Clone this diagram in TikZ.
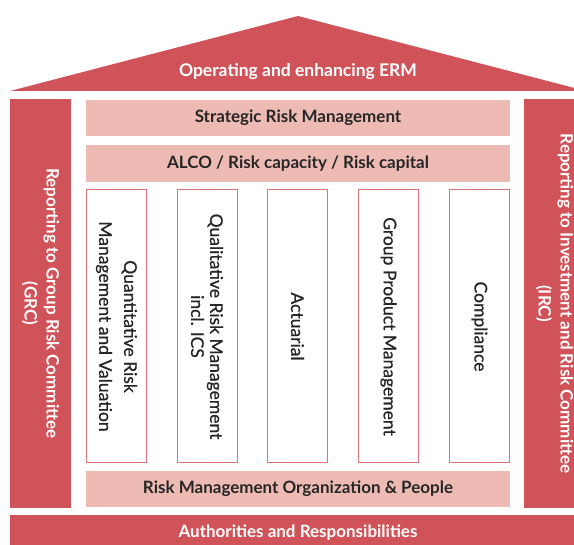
\documentclass[tikz,border=0pt]{standalone}
\usepackage{fontspec}
\setmainfont{Lato}
\newfontfamily\colfont[FakeBold=0.8]{Lato}
\definecolor{ermred}{HTML}{D05359}
\definecolor{ermpink}{HTML}{EDBBB4}
\definecolor{ermline}{HTML}{DE7379}
\definecolor{ermtext}{HTML}{262626}
\begin{document}
\begin{tikzpicture}[x=1pt,y=-1pt,
    bar/.style={fill=ermpink,text=ermtext,inner sep=0pt,minimum width=424pt,
      font=\bfseries\fontsize{17}{20}\selectfont},
    redbar/.style={fill=ermred,text=white,inner sep=0pt,
      font=\bfseries\fontsize{17}{20}\selectfont},
    column/.style={draw=ermline,line width=1pt,rotate=-90,inner sep=0pt,
      minimum width=273pt,minimum height=60pt,align=center,text=ermtext,
      font=\colfont\fontsize{17.5}{19}\selectfont},
    pillar/.style={fill=ermred,text=white,rotate=-90,inner sep=0pt,
      minimum width=409pt,minimum height=61pt,align=center,
      font=\bfseries\fontsize{17}{22}\selectfont}]
    \useasboundingbox (0,0) rectangle (574,545);
    \begin{scope}
        \clip (0,0) rectangle (574,545);
        % roof
        \fill[ermred] (10,91) -- (298,16) -- (586,91) -- cycle;
        \node[text=white,font=\bfseries\fontsize{17.5}{20}\selectfont] (roof) at (298,72) {Operating and enhancing ERM};

        % pillars at the sides
        \node[pillar] (PL) at (40.5,303.5) {Reporting to Group Risk Committee\\(GRC)};
        \node[pillar] (PR) at (554.5,303.5) {Reporting to Investment and Risk Committee\\(IRC)};

        % bars
        \node[bar,minimum height=36pt] (SR) at (298,118) {Strategic Risk Management};
        \node[bar,minimum height=37pt] (AL) at (298,163.5) {ALCO / Risk capacity / Risk capital};
        \node[bar,minimum height=36pt] (RO) at (298,489) {Risk Management Organization \& People};

        % columns
        \node[column] (CA) at (116.5,326.5) {Quantitative Risk\\[6pt]Management and Valuation};
        \node[column] (CB) at (207,326.5) {Qualitative Risk Management\\incl. ICS};
        \node[column] (CC) at (297.5,326.5) {Actuarial};
        \node[column] (CD) at (388.5,326.5) {Group Product Management};
        \node[column] (CE) at (479.5,326.5) {Compliance};

        % base
        \node[redbar,minimum width=575pt,minimum height=33pt] (AR) at (297.5,531.5) {};
        \node[redbar] (ART) at (298,533) {Authorities and Responsibilities};
    \end{scope}
\end{tikzpicture}
\end{document}
